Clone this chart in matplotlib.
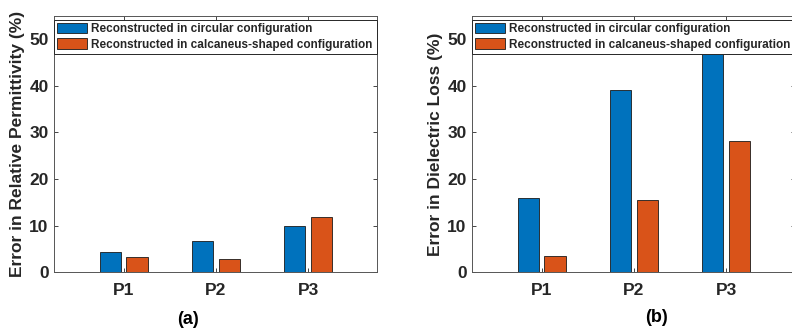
import numpy as np
import matplotlib
matplotlib.use("Agg")
import matplotlib.pyplot as plt

plt.rcParams['font.family'] = ['Liberation Sans', 'DejaVu Sans']
plt.rcParams['font.weight'] = 'bold'

groups = ['P1', 'P2', 'P3']
series = ['Reconstructed in circular configuration',
          'Reconstructed in calcaneus-shaped configuration']
perm_circ = [4.3, 6.7, 9.9]
perm_calc = [3.2, 2.9, 11.8]
loss_circ = [16.0, 39.1, 47.1]
loss_calc = [3.6, 15.6, 28.1]
ylabels = ['Error in Relative Permittivity (%)', 'Error in Dielectric Loss (%)']
panels = ['(a)', '(b)']

blue = '#0072BD'
orange = '#D95319'
txt = '#262626'

W, H = 792, 328
fig = plt.figure(figsize=(W / 100, H / 100), dpi=100)

def px_axes(x0, y0, x1, y1):
    return fig.add_axes([x0 / W, 1 - y1 / H, (x1 - x0) / W, (y1 - y0) / H])

ax_a = px_axes(54.3, 15.7, 377.3, 272.3)
ax_b = px_axes(472.3, 15.7, 795.3, 272.3)

x = np.arange(1, len(groups) + 1)
w = 0.23
off = 0.145
data = [(perm_circ, perm_calc), (loss_circ, loss_calc)]

for ax, (c1, c2), yl in zip([ax_a, ax_b], data, ylabels):
    ax.bar(x - off, c1, w, color=blue, edgecolor='#1a1a1a', linewidth=0.6, label=series[0])
    ax.bar(x + off, c2, w, color=orange, edgecolor='#1a1a1a', linewidth=0.6, label=series[1])
    ax.set_xlim(0.25, 3.75)
    ax.set_ylim(0, 55)
    ax.set_xticks(x)
    ax.set_xticklabels(groups)
    ax.set_yticks([0, 10, 20, 30, 40, 50])
    ax.tick_params(direction='in', length=3, width=0.6, colors=txt,
                   labelsize=12.5, top=True, right=True, pad=4)
    ax.tick_params(axis='x', pad=8)
    for lab in ax.get_xticklabels() + ax.get_yticklabels():
        lab.set_fontweight('bold')
    for sp in ax.spines.values():
        sp.set_color('#555555')
        sp.set_linewidth(0.7)
    ax.set_ylabel(yl, fontsize=12.5, fontweight='bold', color=txt, labelpad=3)
    leg = ax.legend(loc='upper left', bbox_to_anchor=(0, 0.985, 1, 0), mode='expand',
                    fontsize=8.5, fancybox=False, framealpha=1, edgecolor=txt,
                    handlelength=2.55, handleheight=1.0, handletextpad=0.3,
                    labelspacing=0.3, borderpad=0.25, borderaxespad=0)
    leg.get_frame().set_linewidth(0.7)
    for t in leg.get_texts():
        t.set_color(txt)
        t.set_fontweight('bold')

fig.text(188 / W, 1 - 320 / H, panels[0], ha='center', va='center',
         fontsize=13, fontweight='bold', color='black')
fig.text(656 / W, 1 - 318 / H, panels[1], ha='center', va='center',
         fontsize=13, fontweight='bold', color='black')

fig.savefig('out.png', dpi=100)
